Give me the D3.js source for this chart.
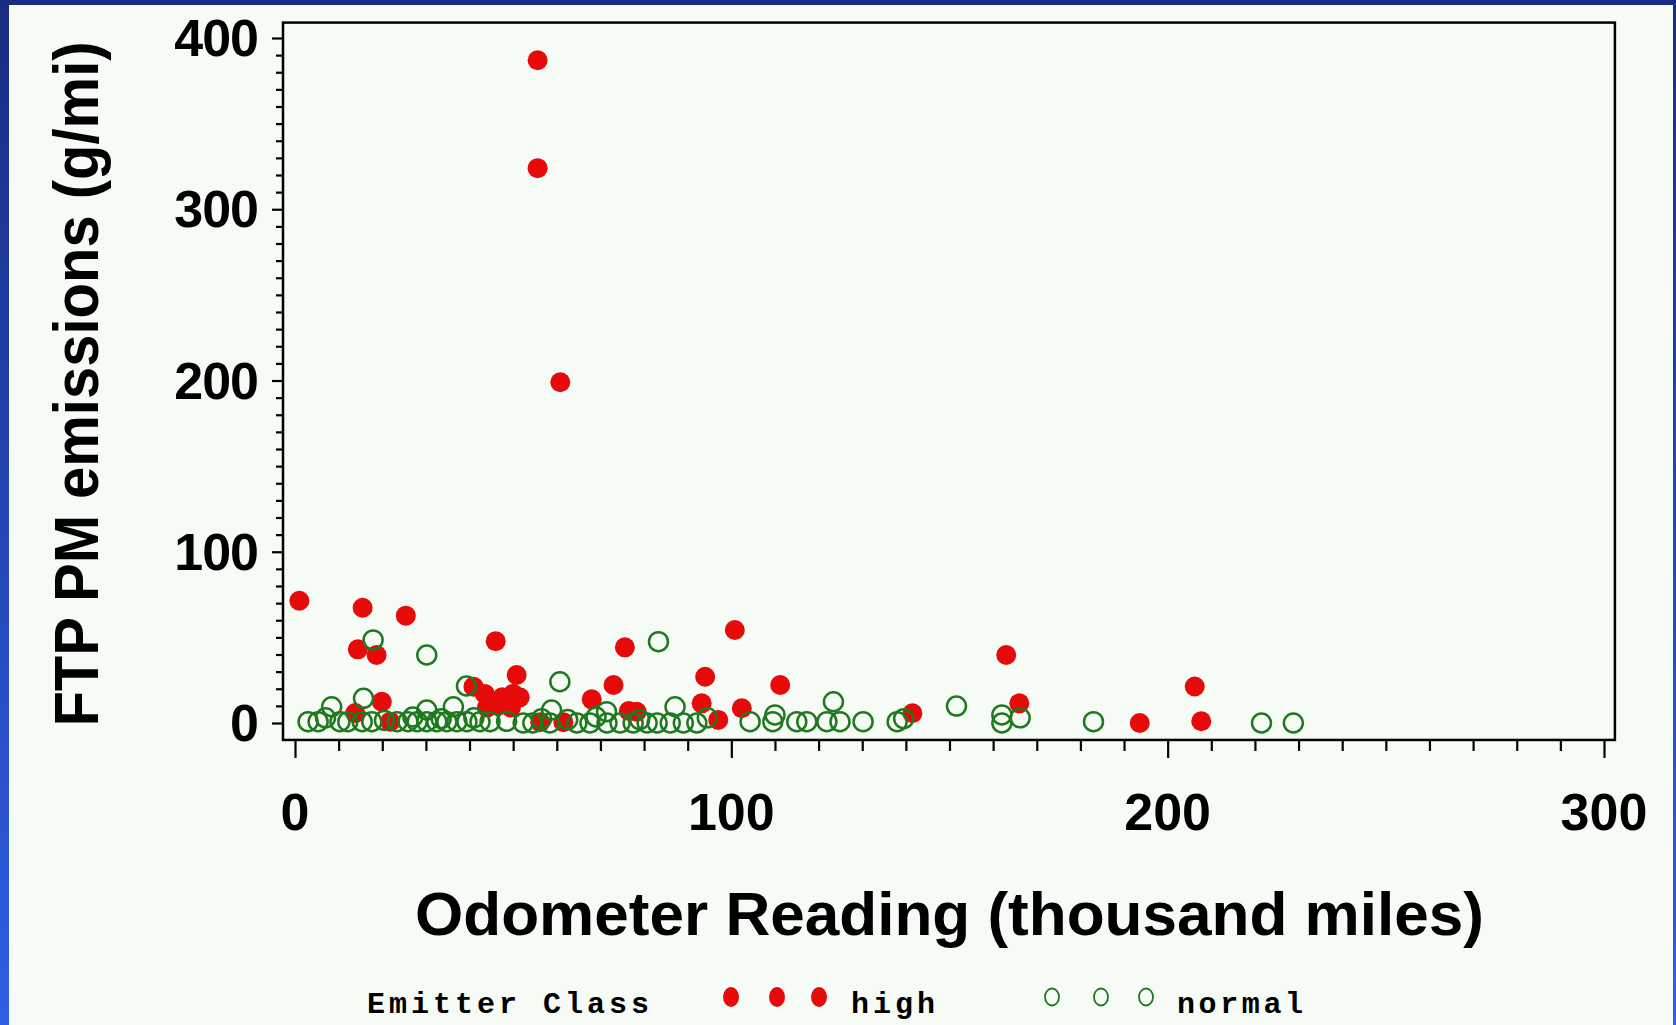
<!DOCTYPE html>
<html>
<head>
<meta charset="utf-8">
<script src="https://cdn.jsdelivr.net/npm/d3@7"></script>
<style>
  html, body { margin: 0; padding: 0; background: #1b2d86; }
  svg { display: block; }
  .tick line { stroke: #000; stroke-width: 2.2; }
  .domain { display: none; }
  .tickLabel { font-family: "Liberation Sans", Arial, sans-serif; font-weight: bold; font-size: 52px; fill: #000; }
  .axisTitle { font-family: "Liberation Sans", Arial, sans-serif; font-weight: bold; font-size: 62px; fill: #000; }
  .legendText { font-family: "Liberation Mono", "DejaVu Sans Mono", monospace; font-weight: bold; font-size: 30px; fill: #000; }
</style>
</head>
<body>
<div id="chart"></div>
<script>
// Emitter class "high" (red filled) : odometer (thousand miles) and PM (g/mi)
const highOdometer = [55.6, 55.6, 60.8, 1.0, 15.5, 25.4, 14.4, 18.7, 46.0, 19.9,
  13.8, 21.8, 50.8, 75.6, 73.0, 68.0, 76.5, 78.3, 94.0, 93.2,
  56.2, 61.5, 100.8, 111.2, 102.4, 97.0, 141.5, 163.0, 166.0, 193.6,
  206.2, 207.7, 40.9, 43.5, 45.0, 46.5, 47.5, 48.5, 50.0, 51.5,
  44.0, 49.5];
const highPM = [387, 324, 199, 71.4, 67.3, 62.7, 43.0, 39.7, 47.8, 12.4,
  5.8, 0.8, 28.0, 44.2, 22.2, 13.8, 7.0, 6.6, 27.0, 11.5,
  0.5, 0.5, 54.3, 22.2, 8.6, 1.8, 5.7, 39.7, 11.5, 0,
  21.3, 1.0, 21.2, 17, 13, 10, 15, 12, 17, 15,
  9, 9];

// Emitter class "normal" (green open)
const normalOdometer = [17.9, 30.2, 39.3, 15.7, 8.4, 30.2, 36.3,
  3.0, 5.3, 10.3, 12.1, 15.4, 17.6, 23.4, 25.9, 28.0, 30.2, 32.5, 34.8, 37.1, 39.4, 42.4, 44.7,
  60.7, 83.3, 58.8, 87.1,
  52.3, 54.5, 58.4, 64.6, 67.6, 71.5, 74.5, 77.5, 80.7, 83.0, 86.0, 89.0, 92.1,
  123.4, 110.0,
  104.3, 109.5, 115.0, 117.3, 121.9, 124.9, 130.2, 138.0,
  151.6, 162.0, 162.0, 166.2, 183.0, 221.5, 228.8,
  139.5, 71.4, 20.5, 48.5, 62.5,
  7.0, 27.0, 33.5, 41.0, 56.5, 69.0, 79.0, 94.5];
const normalPM = [48.5, 39.7, 21.6, 14.4, 9.5, 7.6, 9.5,
  0.8, 0.8, 0.8, 0.8, 0.8, 0.8, 0.8, 0.8, 0.8, 0.8, 0.8, 0.8, 0.8, 0.8, 0.8, 0.8,
  24.1, 47.5, 7.6, 9.5,
  0, 0, 0, 0, 0, 0, 0, 0, 0, 0, 0, 0, 0,
  12.4, 4.7,
  0.8, 0.8, 0.8, 0.8, 0.8, 0.8, 0.8, 0.8,
  9.9, 4.7, 0, 3.0, 0.8, 0, 0,
  2.5, 6.6, 1.5, 1.0, 2.0,
  3.0, 3.5, 2.5, 3.0, 2.5, 3.5, 2.0, 3.0];

const xTicks = [0, 100, 200, 300];
const yTicks = [0, 100, 200, 300, 400];
const xLabel = 'Odometer Reading (thousand miles)';
const yLabel = 'FTP PM emissions (g/mi)';
const legendTitle = 'Emitter Class';
const classNames = ['high', 'normal'];

const high = highOdometer.map((d, i) => ({x: d, y: highPM[i]}));
const normal = normalOdometer.map((d, i) => ({x: d, y: normalPM[i]}));

let width = 1676,
    height = 1025;

let xScale = d3.scaleLinear().domain([0, 300]).range([295, 1604]),
    yScale = d3.scaleLinear().domain([0, 400]).range([723, 38]);

// plot frame, a little past the tick range
let frame = {
  left: xScale(-2.75),
  right: xScale(302.5),
  top: yScale(409),
  bottom: yScale(-9.9)
};

let svg = d3.select('#chart')
  .append('svg')
    .attr('width', width)
    .attr('height', height);

let defs = svg.append('defs');
let grad = defs.append('linearGradient')
    .attr('id', 'bg')
    .attr('x1', 0).attr('y1', 0)
    .attr('x2', 0).attr('y2', 1);
grad.append('stop').attr('offset', '0%').attr('stop-color', '#1a2c82');
grad.append('stop').attr('offset', '100%').attr('stop-color', '#2f5fe6');

svg.append('rect')
    .attr('width', width)
    .attr('height', height)
    .attr('fill', 'url(#bg)');

// light panel
svg.append('rect')
    .attr('x', 9)
    .attr('y', 5)
    .attr('width', 1664)
    .attr('height', height - 5)
    .attr('fill', '#f6fbf6');

// minor + major ticks
let minorX = d3.range(0, 301, 10).filter(v => v % 100 !== 0);
let minorY = d3.range(0, 401, 10).filter(v => v % 100 !== 0);

svg.append('g')
    .attr('transform', 'translate(0,' + frame.bottom + ')')
    .call(d3.axisBottom(xScale).tickValues(minorX).tickSize(11).tickFormat(''));

svg.append('g')
    .attr('transform', 'translate(0,' + frame.bottom + ')')
    .call(d3.axisBottom(xScale).tickValues(xTicks).tickSize(18).tickFormat(''));

svg.append('g')
    .attr('transform', 'translate(' + frame.left + ',0)')
    .call(d3.axisLeft(yScale).tickValues(minorY).tickSize(7).tickFormat(''));

svg.append('g')
    .attr('transform', 'translate(' + frame.left + ',0)')
    .call(d3.axisLeft(yScale).tickValues(yTicks).tickSize(11).tickFormat(''));

// tick labels
svg.append('g')
  .selectAll('text')
    .data(xTicks)
  .enter().append('text')
    .attr('class', 'tickLabel')
    .attr('x', d => xScale(d))
    .attr('y', 830)
    .attr('text-anchor', 'middle')
    .text(d => d);

svg.append('g')
  .selectAll('text')
    .data(yTicks)
  .enter().append('text')
    .attr('class', 'tickLabel')
    .attr('x', 258)
    .attr('y', d => yScale(d) + 18)
    .attr('text-anchor', 'end')
    .attr('letter-spacing', -1)
    .text(d => d);

// frame
svg.append('rect')
    .attr('x', frame.left)
    .attr('y', frame.top)
    .attr('width', frame.right - frame.left)
    .attr('height', frame.bottom - frame.top)
    .attr('fill', 'none')
    .attr('stroke', '#000')
    .attr('stroke-width', 2.5);

// points
svg.append('g')
  .selectAll('circle')
    .data(high)
  .enter().append('circle')
    .attr('cx', d => xScale(d.x))
    .attr('cy', d => yScale(d.y))
    .attr('r', 10)
    .attr('fill', '#e60a0a');

svg.append('g')
  .selectAll('circle')
    .data(normal)
  .enter().append('circle')
    .attr('cx', d => xScale(d.x))
    .attr('cy', d => yScale(d.y))
    .attr('r', 9.5)
    .attr('fill', 'none')
    .attr('stroke', '#1f7a1f')
    .attr('stroke-width', 2.5);

// axis titles
svg.append('text')
    .attr('class', 'axisTitle')
    .attr('x', 415)
    .attr('y', 935)
    .attr('textLength', 1069)
    .attr('lengthAdjust', 'spacingAndGlyphs')
    .text(xLabel);

// y title: smaller font so it fits, stretched a bit across the baseline
svg.append('text')
    .attr('class', 'axisTitle')
    .style('font-size', '58px')
    .attr('text-anchor', 'middle')
    .attr('transform', 'translate(98,384) rotate(-90) scale(1,1.1)')
    .text(yLabel);

// legend
let legend = svg.append('g');

legend.append('text')
    .attr('class', 'legendText')
    .attr('x', 367)
    .attr('y', 1013)
    .attr('textLength', 282)
    .attr('lengthAdjust', 'spacing')
    .text(legendTitle);

let legendItems = [
  {name: classNames[0], xs: [731, 777, 819], tx: 851, len: 84},
  {name: classNames[1], xs: [1052, 1101, 1146], tx: 1177, len: 126}
];

legendItems.forEach((item, i) => {
  legend.append('g')
    .selectAll('ellipse')
      .data(item.xs)
    .enter().append('ellipse')
      .attr('cx', d => d)
      .attr('cy', 997)
      .attr('rx', i === 0 ? 8 : 7)
      .attr('ry', i === 0 ? 10 : 8.5)
      .attr('fill', i === 0 ? '#e60a0a' : 'none')
      .attr('stroke', i === 0 ? 'none' : '#1f7a1f')
      .attr('stroke-width', 1.8);

  legend.append('text')
      .attr('class', 'legendText')
      .attr('x', item.tx)
      .attr('y', 1013)
      .attr('textLength', item.len)
      .attr('lengthAdjust', 'spacing')
      .text(item.name);
});
</script>
</body>
</html>
